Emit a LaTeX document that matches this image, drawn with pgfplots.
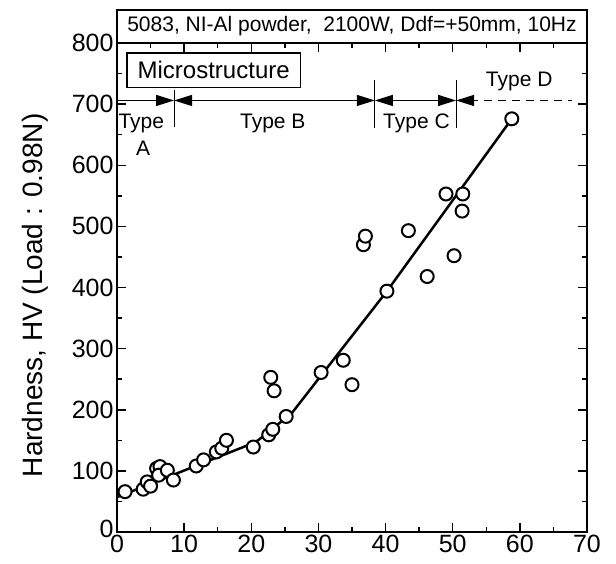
\documentclass[border=0pt]{standalone}
\usepackage{fontspec}
\setmainfont{Liberation Sans}
\usepackage{pgfplots}
\pgfplotsset{compat=1.18}
\usetikzlibrary{arrows.meta}
\begin{document}
\begin{tikzpicture}
\useasboundingbox (-117pt,-31pt) rectangle (499pt,532pt);
\begin{axis}[at={(0pt,0pt)}, anchor=south west, scale only axis, width=470pt, height=489pt,
 xmin=0, xmax=70, ymin=0, ymax=800,
 xtick={0,10,...,70}, ytick={0,100,...,800},
 yticklabels={\raisebox{7pt}{0},100,200,300,400,500,600,700,800},
 minor x tick num=1, minor y tick num=1,
 tick align=inside, major tick length=9pt, minor tick length=5pt,
 every tick/.style={black, line width=1.5pt},
 axis line style={line width=2pt},
 tick label style={font=\fontsize{25}{25}\selectfont},
 /pgf/number format/assume math mode=true,
 ylabel={Hardness, HV (Load : 0.98N)},
 ylabel style={font=\fontsize{28}{28}\selectfont, at={(axis description cs:-0.1745,0.484)}, anchor=center},
 clip=false]
% header
\draw[line width=1.5pt] (axis cs:0,800) rectangle (axis cs:70,854);
\node[font=\fontsize{21}{21}\selectfont] at (axis cs:35,827) {5083, NI-Al powder,\ \ 2100W, Ddf=+50mm, 10Hz};
% microstructure box
\draw[line width=1.5pt] (axis cs:1.5,784) rectangle (axis cs:27.3,727);
\node[font=\fontsize{24}{24}\selectfont] at (axis cs:14.4,755.5) {Microstructure};
% separators
\draw[line width=1pt] (axis cs:8.5,723) -- (axis cs:8.5,662);
\draw[line width=1pt] (axis cs:38.4,740) -- (axis cs:38.4,661);
\draw[line width=1pt] (axis cs:50.5,740) -- (axis cs:50.5,661);
% arrows
\draw[line width=1.2pt, -{Triangle[length=18pt,width=11pt]}] (axis cs:0,706) -- (axis cs:8.5,706);
\draw[line width=1.2pt, {Triangle[length=18pt,width=11pt]}-{Triangle[length=18pt,width=11pt]}] (axis cs:8.5,706) -- (axis cs:38.4,706);
\draw[line width=1.2pt, {Triangle[length=18pt,width=11pt]}-{Triangle[length=18pt,width=11pt]}] (axis cs:38.4,706) -- (axis cs:50.5,706);
\draw[line width=1.2pt, {Triangle[length=18pt,width=11pt]}-] (axis cs:50.5,706) -- (axis cs:53.8,706);
\draw[line width=1.2pt, dash pattern=on 8pt off 6pt] (axis cs:54.7,706) -- (axis cs:67.8,706);
% type labels
\node[font=\fontsize{21}{21}\selectfont, anchor=west, inner sep=0pt] at (axis cs:0.2,669) {Type};
\node[font=\fontsize{21}{21}\selectfont] at (axis cs:3.9,627) {A};
\node[font=\fontsize{21}{21}\selectfont] at (axis cs:23.2,669) {Type B};
\node[font=\fontsize{21}{21}\selectfont] at (axis cs:44.6,669) {Type C};
\node[font=\fontsize{21}{21}\selectfont] at (axis cs:59.9,737) {Type D};
% fitted line
\addplot[black, line width=2.5pt, no marks] coordinates {
(0,57) (19.5,142) (21,150) (26,194) (40.2,394) (59,679)};
% data
\addplot[only marks, mark=*, mark size=6.5pt, mark options={draw=black, fill=white, line width=2pt}] coordinates {
(1.2,66) (3.9,70) (4.5,82) (5.0,75) (5.9,104) (6.4,107) (6.2,93) (7.5,101) (8.4,85)
(11.8,108) (12.9,118) (14.8,131) (15.6,137) (16.3,150) (20.3,139) (22.6,159) (23.2,168)
(22.9,253) (23.4,231) (25.2,189) (30.4,261) (33.7,281) (35.0,241)
(36.7,470) (37.0,484) (40.2,394) (43.4,493) (46.2,418) (49.0,553) (51.5,553) (51.4,525)
(50.2,452) (58.8,676)};
\end{axis}
\end{tikzpicture}
\end{document}
